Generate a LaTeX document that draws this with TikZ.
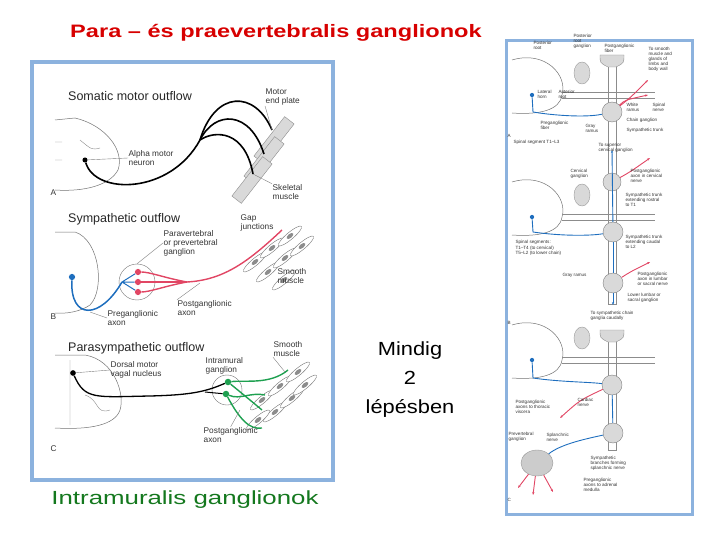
\documentclass[tikz,border=0pt]{standalone}
\usepackage{fontspec}
\setmainfont{Liberation Sans}
\usetikzlibrary{positioning,shapes.geometric,arrows.meta}
\definecolor{frameblue}{RGB}{140,178,222}
\definecolor{nerveblue}{RGB}{30,110,190}
\definecolor{nervered}{RGB}{225,70,100}
\definecolor{nervegreen}{RGB}{30,160,80}
\definecolor{titlered}{RGB}{215,0,0}
\definecolor{textgreen}{RGB}{20,120,30}
\tikzset{
  lbl/.style={font=\fontsize{8.3}{9}\selectfont, align=left, anchor=west, inner sep=0.5pt, text=black!80},
  head/.style={font=\fontsize{12.5}{13}\selectfont, anchor=west, inner sep=0pt, text=black!85},
  tiny/.style={font=\fontsize{4.6}{5}\selectfont, align=left, anchor=west, inner sep=0.3pt, text=black!80},
  outline/.style={draw=black!55, fill=white, line width=0.5pt},
  cell/.style={ellipse, draw=black!55, fill=white, minimum width=30pt, minimum height=7pt, rotate=40, inner sep=0pt},
  nucleus/.style={ellipse, fill=black!45, minimum width=8pt, minimum height=4pt, rotate=40, inner sep=0pt},
  gang/.style={circle, draw=black!50, fill=black!15, inner sep=0pt},
  ring/.style={circle, draw=black!55, inner sep=0pt},
  blue nerve/.style={nerveblue, line width=1.5pt},
  red nerve/.style={nervered, line width=1.4pt},
  green nerve/.style={nervegreen, line width=1.4pt},
  thin blue/.style={nerveblue, line width=0.9pt},
  thin red/.style={nervered, line width=0.9pt, -{Stealth[length=3pt]}}
}
\begin{document}
\begin{tikzpicture}[x=1pt,y=-1pt]
\useasboundingbox (0,0) rectangle (720,540);
% big texts
\node[font=\bfseries\fontsize{18}{19}\selectfont, text=titlered, xscale=1.31] (title) at (276,33) {Para -- és praevertebralis ganglionok};
\node[font=\fontsize{19}{29}\selectfont, align=center, xscale=1.15] (mindig) at (410,380) {Mindig\\2\\lépésben};
\node[font=\fontsize{19}{20}\selectfont, text=textgreen, xscale=1.36] (intra) at (185,500) {Intramuralis ganglionok};
% left panel
\draw[frameblue, line width=4pt] (32,62) rectangle (333,480);
% ---- A: somatic
\node[head] (hA) at (68,96) {Somatic motor outflow};
\draw[outline] (55,120) -- (75,118) .. controls (105,125) and (125,150) .. (118,170) .. controls (110,185) and (85,192) .. (55,190);
\draw[black!45, line width=0.4pt] (55,142) -- (62,142) (55,160) -- (62,160) (80,140) .. controls (92,150) .. (100,148);
\foreach \c in {(274,140),(264,160),(252,180)} {
  \fill[black!15, draw=black!45, rotate around={52:\c}] \c ++(-25,-6) rectangle ++(50,12);
}
\node[circle, fill=black, inner sep=1.8pt] (alpha) at (85,160) {};
\coordinate (endA1) at (272,130);
\coordinate (endA2) at (264,154);
\coordinate (endA3) at (253,174);
\coordinate (fork) at (200,140);
\draw[black, line width=1.6pt] (alpha) .. controls (95,195) and (170,195) .. (fork);
\draw[black, line width=1.6pt] (fork) .. controls (215,90) and (255,90) .. (endA1);
\draw[black, line width=1.6pt] (fork) .. controls (215,110) and (250,110) .. (endA2);
\draw[black, line width=1.6pt] (fork) .. controls (215,130) and (245,130) .. (endA3);
\node[lbl] (motor) at (265,97) {Motor\\end plate};
\node[lbl] (alphal) at (128,158) {Alpha motor\\neuron};
\node[lbl] (skel) at (272,192) {Skeletal\\muscle};
\node[lbl] (A) at (50,193) {A};
\draw[black!50, line width=0.4pt] (alpha) -- (alphal.west);
\draw[black!50, line width=0.4pt] (motor.south west) -- (endA1);
\draw[black!50, line width=0.4pt] (skel.north west) -- (endA3);
% ---- B: sympathetic
\node[head] (hB) at (68,219) {Sympathetic outflow};
\draw[outline] (55,232) -- (75,232) .. controls (100,240) and (105,290) .. (90,305) .. controls (80,312) and (65,314) .. (55,313);
\foreach \x/\y in {255/262,272/248,290/236,268/272,285/258,302/246,284/280} {
  \node[cell] at (\x,\y) {};
  \node[nucleus] at (\x,\y) {};
}
\node[ring, minimum size=36pt] (gangB) at (137,282) {};
\node[circle, fill=nervered, inner sep=2.2pt] (rB1) at (138,272) {};
\node[circle, fill=nervered, inner sep=2.2pt] (rB2) at (138,282) {};
\node[circle, fill=nervered, inner sep=2.2pt] (rB3) at (138,292) {};
\node[circle, fill=nerveblue, inner sep=2.2pt] (preB) at (72,277) {};
\coordinate (joinB) at (187,282);
\draw[blue nerve] (preB) .. controls (70,320) and (100,320) .. (122,282);
\draw[nerveblue, line width=1pt] (122,282) -- (rB1) (122,282) -- (rB2) (122,282) -- (rB3);
\draw[red nerve] (rB1) .. controls (150,272) and (165,278) .. (joinB);
\draw[red nerve] (rB2) -- (joinB);
\draw[red nerve] (rB3) .. controls (150,292) and (165,286) .. (joinB);
\draw[red nerve] (joinB) .. controls (225,280) and (250,260) .. (282,230);
\node[lbl] (gap) at (240,223) {Gap\\junctions};
\node[lbl] (parav) at (163,243) {Paravertebral\\or prevertebral\\ganglion};
\node[lbl] (smoothB) at (277,276) {Smooth\\muscle};
\node[lbl] (postB) at (177,308) {Postganglionic\\axon};
\node[lbl] (preBl) at (107,318) {Preganglionic\\axon};
\node[lbl] (B) at (50,317) {B};
\draw[black!50, line width=0.4pt] (parav.west) -- (gangB.north);
\draw[black!50, line width=0.4pt] (postB.north west) -- (200,283);
\draw[black!50, line width=0.4pt] (preBl.west) -- (90,312);
% ---- C: parasympathetic
\node[head] (hC) at (68,348) {Parasympathetic outflow};
\draw[outline] (55,355) -- (85,355) .. controls (115,360) and (125,395) .. (120,410) .. controls (115,425) and (90,430) .. (55,428);
\draw[black!45, line width=0.4pt] (70,360) -- (70,425) (85,395) .. controls (100,400) and (95,415) .. (110,410);
\foreach \x/\y in {262/400,280/386,298/372,275/412,292/398,258/420,305/385} {
  \node[cell] at (\x,\y) {};
  \node[nucleus] at (\x,\y) {};
}
\node[ring, minimum size=30pt] (gangC) at (227,390) {};
\node[circle, fill=nervegreen, inner sep=2.3pt] (gC1) at (228,382) {};
\node[circle, fill=nervegreen, inner sep=2.3pt] (gC2) at (226,394) {};
\node[circle, fill=black, inner sep=2pt] (dorsal) at (73,373) {};
\draw[black, line width=1.3pt] (dorsal) .. controls (85,400) and (95,397) .. (150,396) .. controls (190,395) and (205,392) .. (gC1);
\draw[black, line width=1pt] (205,392) -- (gC2);
\draw[green nerve] (gC1) .. controls (245,380) and (270,385) .. (288,370);
\draw[green nerve] (gC2) .. controls (240,400) and (250,392) .. (265,395);
\draw[green nerve] (gC2) .. controls (240,420) and (250,430) .. (262,428);
\draw[green nerve] (gC1) .. controls (250,400) .. (262,410);
\node[lbl] (smoothC) at (273,349) {Smooth\\muscle};
\node[lbl] (dors) at (110,370) {Dorsal motor\\vagal nucleus};
\node[lbl] (intram) at (205,366) {Intramural\\ganglion};
\node[lbl] (postC) at (203,435) {Postganglionic\\axon};
\node[lbl] (C) at (50,449) {C};
\draw[black!50, line width=0.4pt] (dorsal) -- (dors.west);
\draw[black!50, line width=0.4pt] (postC.north) -- (240,410);
\draw[black!50, line width=0.4pt] (smoothC.south west) -- (285,372);
% ---- right panel
\draw[frameblue, line width=3pt] (506,41) rectangle (692,514);
% trunks
\draw[black!45, fill=white, line width=0.5pt] (608,62) rectangle (616,304);
\draw[black!45, fill=white, line width=0.5pt] (608,335) rectangle (616,450);
\foreach \y in {55,330} {
  \fill[black!15, draw=black!45] (600,\y) -- (624,\y) .. controls (624,\y+8) .. (616,\y+12) -- (608,\y+12) .. controls (600,\y+8) .. (600,\y) -- cycle;
}
% cords, root ganglia, nerves
\foreach \y/\n in {95/ra,217/rb,360/rc} {
  \draw[outline] (512,\y-35) .. controls (545,\y-45) and (568,\y-20) .. (562,\y) .. controls (560,\y+15) and (540,\y+20) .. (512,\y+18);
  \node[ellipse, fill=black!15, draw=black!40, minimum width=16pt, minimum height=22pt, inner sep=0pt] (\n pg) at (582,\y-22) {};
  \draw[black!45, line width=0.5pt] (562,\y-3) -- (655,\y-3) (562,\y+3) -- (655,\y+3);
  \node[circle, fill=nerveblue, inner sep=1.5pt] (\n n) at (532,\y) {};
}
\node[gang, minimum size=20pt] (ga) at (612,112) {};
\node[gang, minimum size=18pt] (gb1) at (612,182) {};
\node[gang, minimum size=20pt] (gb2) at (613,232) {};
\node[gang, minimum size=20pt] (gb3) at (613,283) {};
\node[gang, minimum size=20pt] (gc1) at (612,385) {};
\node[gang, minimum size=20pt] (gc2) at (613,433) {};
\node[ellipse, fill=black!20, draw=black!40, minimum width=32pt, minimum height=26pt, inner sep=0pt] (gprev) at (537,463) {};
% A nerves
\draw[thin blue] (ran) -- (533,112) .. controls (550,115) and (585,118) .. (ga);
\draw[thin red] (ga) .. controls (625,100) .. (648,95);
\draw[thin red] (ga) .. controls (630,98) .. (648,80);
% B nerves
\draw[thin blue] (rbn) -- (533,232) .. controls (560,236) and (590,236) .. (gb2);
\draw[thin blue, -{Stealth[length=3pt]}] (gb2) -- (612,150);
\draw[thin blue] (gb2) -- (gb3);
\draw[thin blue, -{Stealth[length=3pt]}] (gb3) -- (613,305);
\draw[thin red] (gb1) .. controls (630,172) .. (650,158);
\draw[thin red] (gb3) .. controls (630,272) .. (650,262);
% C nerves
\draw[thin blue] (rcn) -- (533,378) .. controls (560,382) and (590,382) .. (gc1);
\draw[thin blue] (gc1) -- (gc2);
\draw[thin blue] (gc2) .. controls (580,440) and (560,445) .. (gprev);
\draw[thin red] (gc1) .. controls (580,400) .. (560,418);
\draw[thin red] (gprev) -- (518,488);
\draw[thin red] (gprev) -- (533,495);
\draw[thin red] (gprev) -- (553,492);
% right labels
\node[tiny] at (533,45) {Posterior\\root};
\node[tiny] at (573,41) {Posterior\\root\\ganglion};
\node[tiny] at (604,48) {Postganglionic\\fiber};
\node[tiny] at (648,59) {To smooth\\muscle and\\glands of\\limbs and\\body wall};
\node[tiny] at (537,94) {Lateral\\horn};
\node[tiny] at (558,94) {Anterior\\root};
\node[tiny] at (626,107) {White\\ramus};
\node[tiny] at (652,107) {Spinal\\nerve};
\node[tiny] at (626,120) {Chain ganglion};
\node[tiny] at (540,125) {Preganglionic\\fiber};
\node[tiny] at (585,128) {Gray\\ramus};
\node[tiny] at (626,130) {Sympathetic trunk};
\node[tiny] at (507,136) {A};
\node[tiny] at (513,142) {Spinal segment T1--L3};
\node[tiny] at (598,148) {To superior\\cervical ganglion};
\node[tiny] at (570,174) {Cervical\\ganglion};
\node[tiny] at (630,176) {Postganglionic\\axon in cervical\\nerve};
\node[tiny] at (625,200) {Sympathetic trunk\\extending rostral\\to T1};
\node[tiny] at (625,242) {Sympathetic trunk\\extending caudal\\to L2};
\node[tiny] at (515,248) {Spinal segments:\\[1pt]T1--T4 (to cervical)\\T5--L2 (to lower chain)};
\node[tiny] at (562,275) {Gray ramus};
\node[tiny] at (637,279) {Postganglionic\\axon in lumbar\\or sacral nerve};
\node[tiny] at (627,298) {Lower lumbar or\\sacral ganglion};
\node[tiny] at (590,316) {To sympathetic chain\\ganglia caudally};
\node[tiny] at (507,323) {B};
\node[tiny] at (515,407) {Postganglionic\\axons to thoracic\\viscera};
\node[tiny] at (577,402) {Cardiac\\nerve};
\node[tiny] at (508,437) {Prevertebral\\ganglion};
\node[tiny] at (546,437) {Splanchnic\\nerve};
\node[tiny] at (590,463) {Sympathetic\\branches forming\\splanchnic nerve};
\node[tiny] at (583,485) {Preganglionic\\axons to adrenal\\medulla};
\node[tiny] at (507,500) {C};
\end{tikzpicture}
\end{document}
